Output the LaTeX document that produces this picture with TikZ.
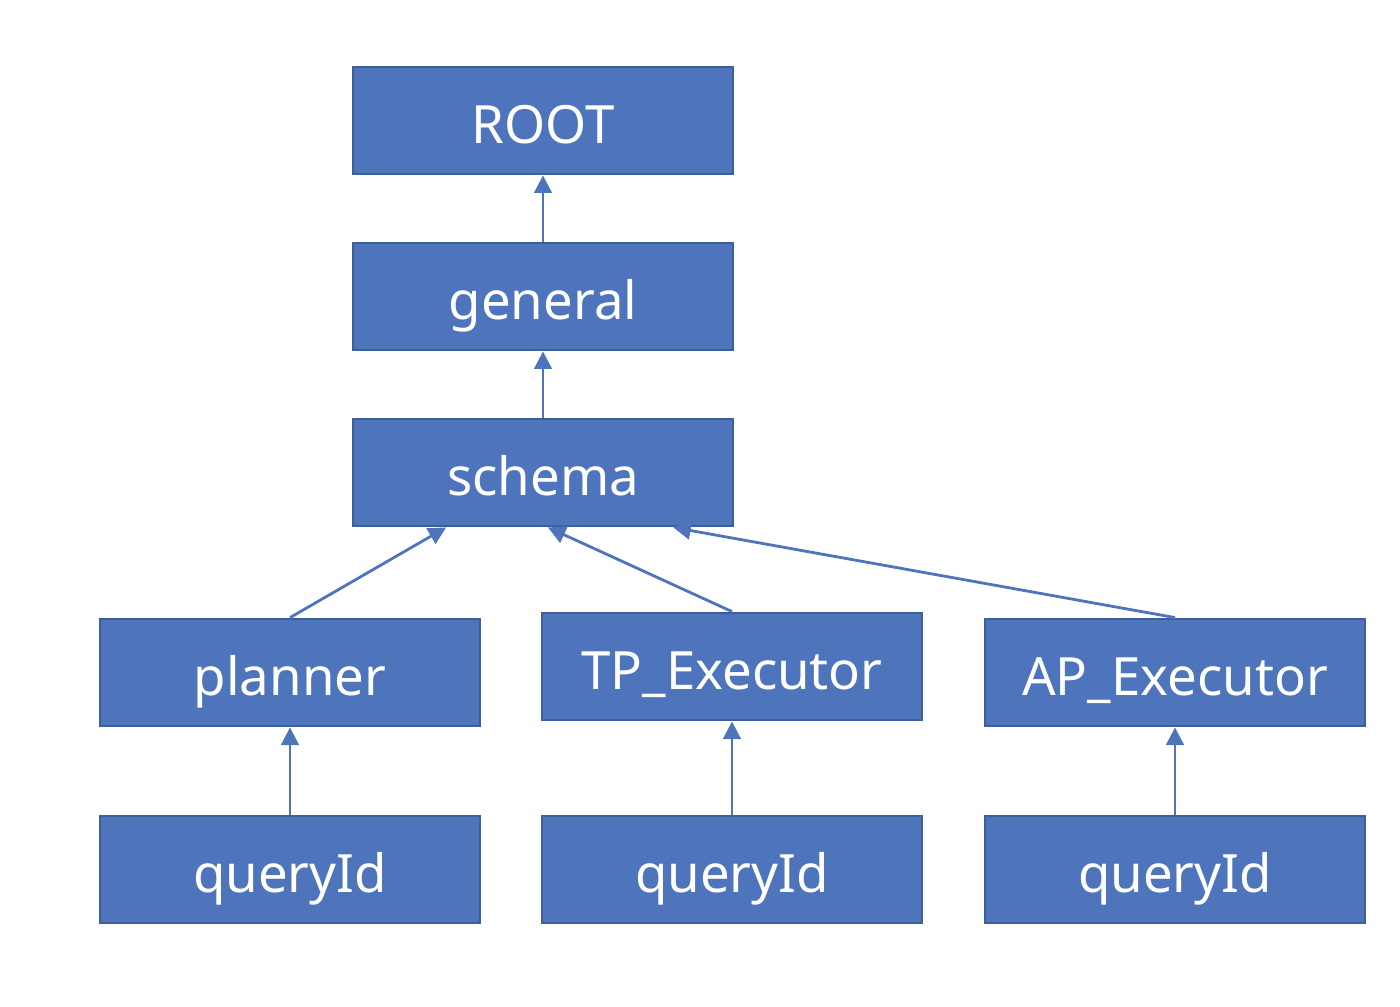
\documentclass[tikz,border=0pt]{standalone}
\usepackage{fontspec}
\setmainfont{Noto Sans}
\usetikzlibrary{arrows.meta,calc}
\begin{document}
\begin{tikzpicture}[x=0.01cm,y=-0.01cm,
  box/.style={draw=boxborder, fill=boxfill, line width=0.8pt, minimum width=380*0.01cm, minimum height=107*0.01cm, inner sep=0pt, text height=15pt, text depth=2pt, text=white, font=\fontsize{15}{18}\selectfont},
  conn/.style={draw=boxfill, line width=0.8pt, -{Triangle[width=5pt,length=5pt]}}]
\definecolor{boxfill}{HTML}{4E75BC}
\definecolor{boxborder}{HTML}{3C5F97}
\useasboundingbox (0,0) rectangle (1400,1006);
\node[box] (root) at (543,120.5) {ROOT};
\node[box] (general) at (543,296.5) {general};
\node[box] (schema) at (543,472.5) {schema};
\node[box] (planner) at (290,672.5) {planner};
\node[box] (tp) at (732,666.5) {TP\_Executor};
\node[box] (ap) at (1175,672.5) {AP\_Executor};
\node[box] (q1) at (290,869.5) {queryId};
\node[box] (q2) at (732,869.5) {queryId};
\node[box] (q3) at (1175,869.5) {queryId};
\coordinate (s1) at ($(schema.south west)!0.247!(schema.south east)$);
\coordinate (s2) at ($(schema.south west)!0.513!(schema.south east)$);
\coordinate (s3) at ($(schema.south west)!0.84!(schema.south east)$);
\draw[conn] (general.north) -- (root.south);
\draw[conn] (schema.north) -- (general.south);
\draw[conn] (planner.north) -- (s1);
\draw[conn] (tp.north) -- (s2);
\draw[conn] (ap.north) -- (s3);
\draw[conn] (q1.north) -- (planner.south);
\draw[conn] (q2.north) -- (tp.south);
\draw[conn] (q3.north) -- (ap.south);
\end{tikzpicture}
\end{document}
